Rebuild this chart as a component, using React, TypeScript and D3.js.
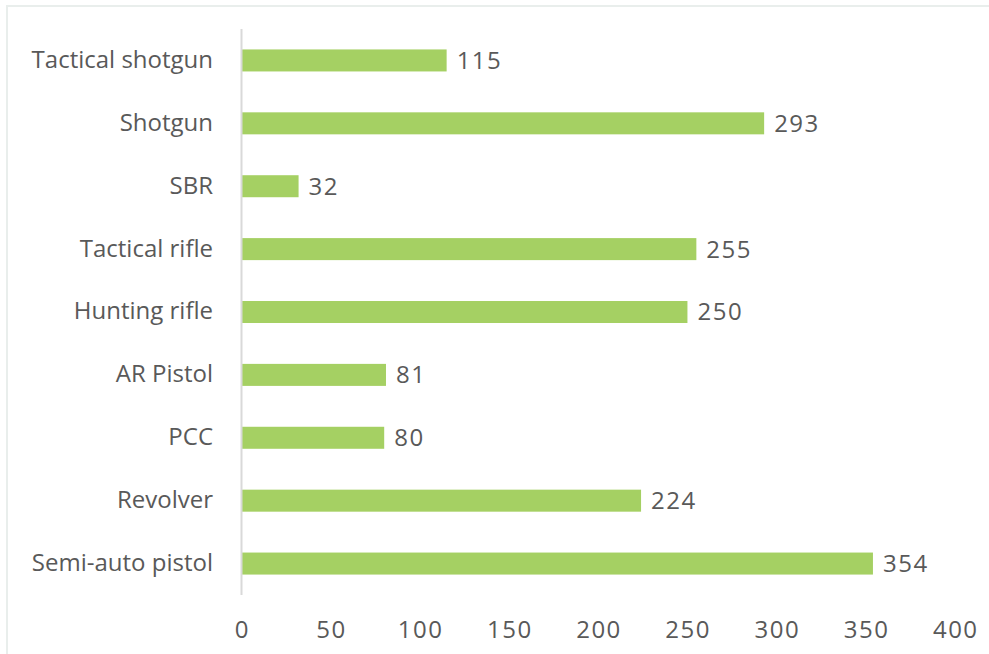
import * as d3 from 'd3';

const categories = ['Tactical shotgun', 'Shotgun', 'SBR', 'Tactical rifle', 'Hunting rifle', 'AR Pistol', 'PCC', 'Revolver', 'Semi-auto pistol'];
const counts = [115, 293, 32, 255, 250, 81, 80, 224, 354];
const xTicks = [0, 50, 100, 150, 200, 250, 300, 350, 400];

const WIDTH = 989;
const HEIGHT = 654;
const FONT = "'Open Sans', sans-serif";
const TEXT_COLOR = '#595959';
const BAR_COLOR = '#a5d063';

export default function App() {
  const xScale = d3.scaleLinear().domain([0, 400]).range([241.5, 955]);
  const yScale = d3.scaleBand().domain(categories).range([29, 595]).paddingInner(0.65).paddingOuter(0.325);

  return (
    <svg width={WIDTH} height={HEIGHT} style={{ position: 'absolute', left: 0, top: 0 }}>
      <rect x={0} y={0} width={WIDTH} height={HEIGHT} fill="#ffffff" />
      <rect x={7} y={6} width={WIDTH} height={HEIGHT} fill="none" stroke="#e9eeec" strokeWidth={2} />
      {categories.map((c, i) => {
        const y = yScale(c) ?? 0;
        const bh = yScale.bandwidth();
        return (
          <g key={c}>
            <rect x={xScale(0)} y={y} width={xScale(counts[i]) - xScale(0)} height={bh} fill={BAR_COLOR} />
            <text x={xScale(counts[i]) + 10} y={y + bh / 2} dy="0.35em" fontFamily={FONT} fontSize={24} letterSpacing={1.5} fill={TEXT_COLOR}>
              {counts[i]}
            </text>
            <text x={213} y={y + bh / 2 - 1} dy="0.35em" textAnchor="end" fontFamily={FONT} fontSize={24} fill={TEXT_COLOR}>
              {c}
            </text>
          </g>
        );
      })}
      <line x1={xScale(0)} x2={xScale(0)} y1={29} y2={595} stroke="#d9d9d9" strokeWidth={2} />
      {xTicks.map((t) => (
        <text key={t} x={xScale(t) + 0.75} y={630} dy="0.35em" textAnchor="middle" fontFamily={FONT} fontSize={24} letterSpacing={1.5} fill={TEXT_COLOR}>
          {t}
        </text>
      ))}
    </svg>
  );
}
